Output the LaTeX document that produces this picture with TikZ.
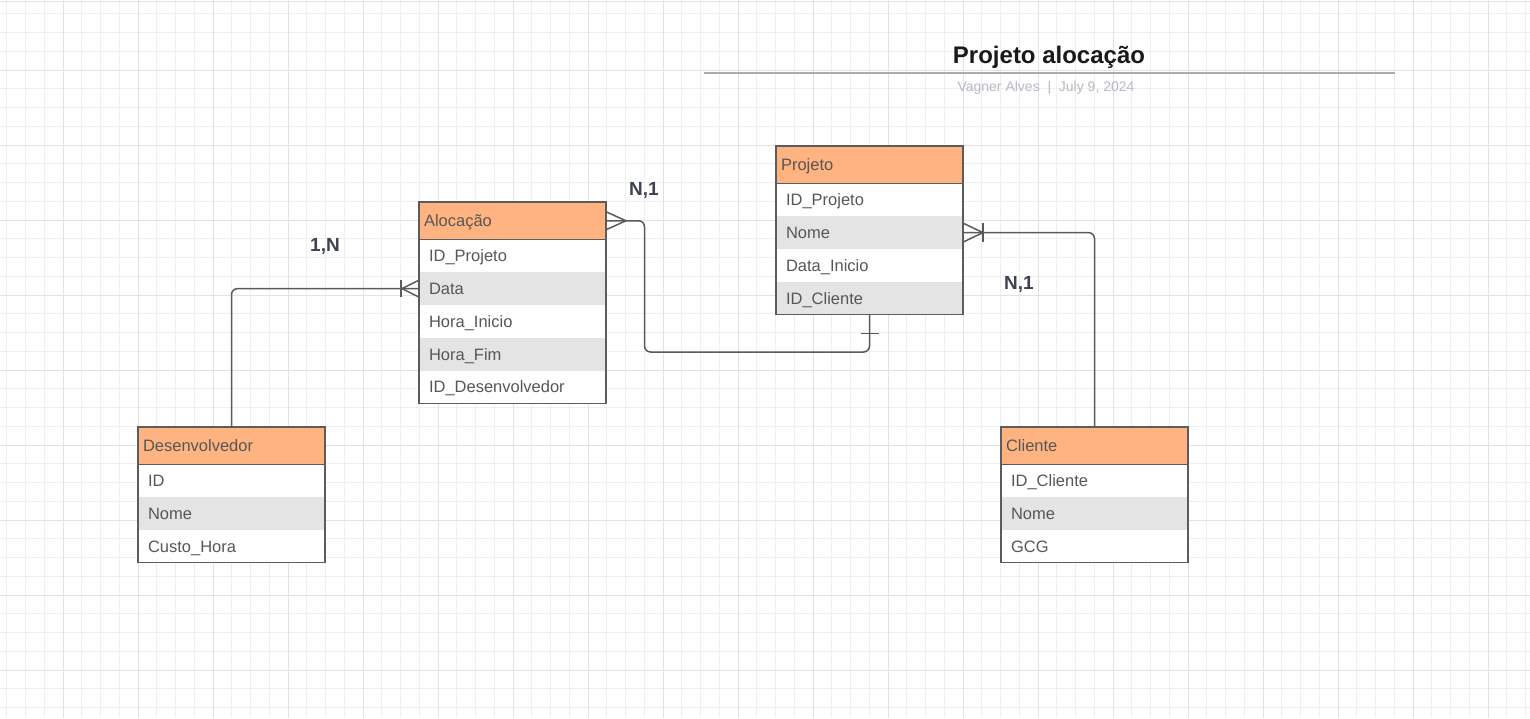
\documentclass[tikz,border=0pt]{standalone}
\usepackage{fontspec}
\setmainfont{Liberation Sans}
\usetikzlibrary{calc}
\definecolor{hdrfill}{HTML}{FFB380}
\definecolor{rowgray}{HTML}{E4E4E4}
\definecolor{bordercol}{HTML}{5C5C5C}
\definecolor{txtcol}{HTML}{575757}
\definecolor{conncol}{HTML}{5A5A5A}
\definecolor{lblcol}{HTML}{3D4350}
\definecolor{gridminor}{HTML}{EFEFEF}
\definecolor{gridmajor}{HTML}{E2E2E2}
\definecolor{rulecol}{HTML}{A6ABB5}
\definecolor{subcol}{HTML}{B6BAC2}
\begin{document}
\begin{tikzpicture}[x=1pt,y=-1pt,
 tfont/.style={font=\fontsize{16.5}{19}\selectfont},
 hdr/.style={draw=bordercol, line width=1.2pt, fill=hdrfill, minimum width=187pt, minimum height=37.5pt,
   text width=177pt, text height=13.5pt, text depth=1.5pt, inner xsep=5pt, inner ysep=0pt, outer sep=0pt,
   align=left, anchor=north west, tfont, text=txtcol},
 roww/.style={fill=white, minimum width=187pt, minimum height=32.75pt, text width=167pt, text height=13.5pt,
   text depth=1.5pt, inner xsep=10pt, inner ysep=0pt, outer sep=0pt, align=left, anchor=north west, tfont, text=txtcol},
 rowg/.style={roww, fill=rowgray},
 tframe/.style={draw=bordercol, line width=1.2pt},
 conn/.style={draw=conncol, line width=1.5pt, rounded corners=6pt},
 crow/.style={draw=conncol, line width=1.5pt},
 lbl/.style={font=\bfseries\fontsize{19}{22}\selectfont, text=lblcol}
]
\useasboundingbox[fill=white] (0,0) rectangle (1530,718);
% grid
\foreach \i in {0,...,81} {
  \pgfmathsetmacro\gx{6.75+18.75*\i}
  \draw[gridminor, line width=1pt] (\gx,0) -- (\gx,718);
}
\foreach \i in {0,...,37} {
  \pgfmathsetmacro\gy{13.75+18.75*\i}
  \draw[gridminor, line width=1pt] (0,\gy) -- (1530,\gy);
}
\foreach \i in {0,...,19} {
  \pgfmathsetmacro\gx{63+75*\i}
  \draw[gridmajor, line width=1pt] (\gx,0) -- (\gx,718);
}
\foreach \i in {0,...,8} {
  \pgfmathsetmacro\gy{70+75*\i}
  \draw[gridmajor, line width=1pt] (0,\gy) -- (1530,\gy);
}
\draw[gridmajor, line width=1pt] (0,1.5) -- (1530,1.5);

% title
\node[font=\bfseries\fontsize{24}{28}\selectfont, text=black!90] (title) at (1049,57) {Projeto alocação};
\coordinate (rl) at (704,73);
\coordinate (rr) at (1395,73);
\draw[rulecol, line width=2pt] (rl) -- (rr);
\node[font=\fontsize{14}{16}\selectfont, text=subcol] (sub) at (1046,88) {Vagner Alves~~|~~July 9, 2024};

% Alocacao
\node[hdr] (aloc) at (419,202) {Alocação};
\node[roww] (aloc1) at (aloc.south west) {ID\_Projeto};
\node[rowg] (aloc2) at (aloc1.south west) {Data};
\node[roww] (aloc3) at (aloc2.south west) {Hora\_Inicio};
\node[rowg] (aloc4) at (aloc3.south west) {Hora\_Fim};
\node[roww] (aloc5) at (aloc4.south west) {ID\_Desenvolvedor};
\draw[tframe] (aloc.north west) rectangle (aloc5.south east);
\draw[tframe] (aloc.south west) -- (aloc.south east);

% Projeto
\node[hdr] (proj) at (776,146) {Projeto};
\node[roww] (proj1) at (proj.south west) {ID\_Projeto};
\node[rowg] (proj2) at (proj1.south west) {Nome};
\node[roww] (proj3) at (proj2.south west) {Data\_Inicio};
\node[rowg] (proj4) at (proj3.south west) {ID\_Cliente};
\draw[tframe] (proj.north west) rectangle (proj4.south east);
\draw[tframe] (proj.south west) -- (proj.south east);

% Desenvolvedor
\node[hdr] (dev) at (138,427) {Desenvolvedor};
\node[roww] (dev1) at (dev.south west) {ID};
\node[rowg] (dev2) at (dev1.south west) {Nome};
\node[roww] (dev3) at (dev2.south west) {Custo\_Hora};
\draw[tframe] (dev.north west) rectangle (dev3.south east);
\draw[tframe] (dev.south west) -- (dev.south east);

% Cliente
\node[hdr] (cli) at (1001,427) {Cliente};
\node[roww] (cli1) at (cli.south west) {ID\_Cliente};
\node[rowg] (cli2) at (cli1.south west) {Nome};
\node[roww] (cli3) at (cli2.south west) {GCG};
\draw[tframe] (cli.north west) rectangle (cli3.south east);
\draw[tframe] (cli.south west) -- (cli.south east);

% connector Desenvolvedor -> Alocacao
\draw[conn] (dev.north) |- (aloc2.west);
\draw[crow] ($(aloc2.west)+(0,-8.5)$) -- ($(aloc2.west)+(-17,0)$) -- ($(aloc2.west)+(0,8.5)$);
\draw[crow] ($(aloc2.west)+(-18,-8.5)$) -- ($(aloc2.west)+(-18,8.5)$);
\node[lbl] (l1) at (325,246) {1,N};

% connector Alocacao -> Projeto
\coordinate (c2) at (644.5,352);
\draw[conn] (aloc.east) -| (c2) -| (proj4.south);
\draw[crow] ($(aloc.east)+(0,-9)$) -- ($(aloc.east)+(20,0)$) -- ($(aloc.east)+(0,9)$);
\draw[crow] ($(proj4.south)+(-9,19)$) -- ($(proj4.south)+(9,19)$);
\node[lbl] (l2) at (644,190) {N,1};

% connector Projeto -> Cliente
\draw[conn] (proj2.east) -| (cli.north);
\draw[crow] ($(proj2.east)+(0,-9.5)$) -- ($(proj2.east)+(20,0)$) -- ($(proj2.east)+(0,9.5)$);
\draw[crow] ($(proj2.east)+(20,-9.5)$) -- ($(proj2.east)+(20,9.5)$);
\node[lbl] (l3) at (1019,284) {N,1};
\end{tikzpicture}
\end{document}
